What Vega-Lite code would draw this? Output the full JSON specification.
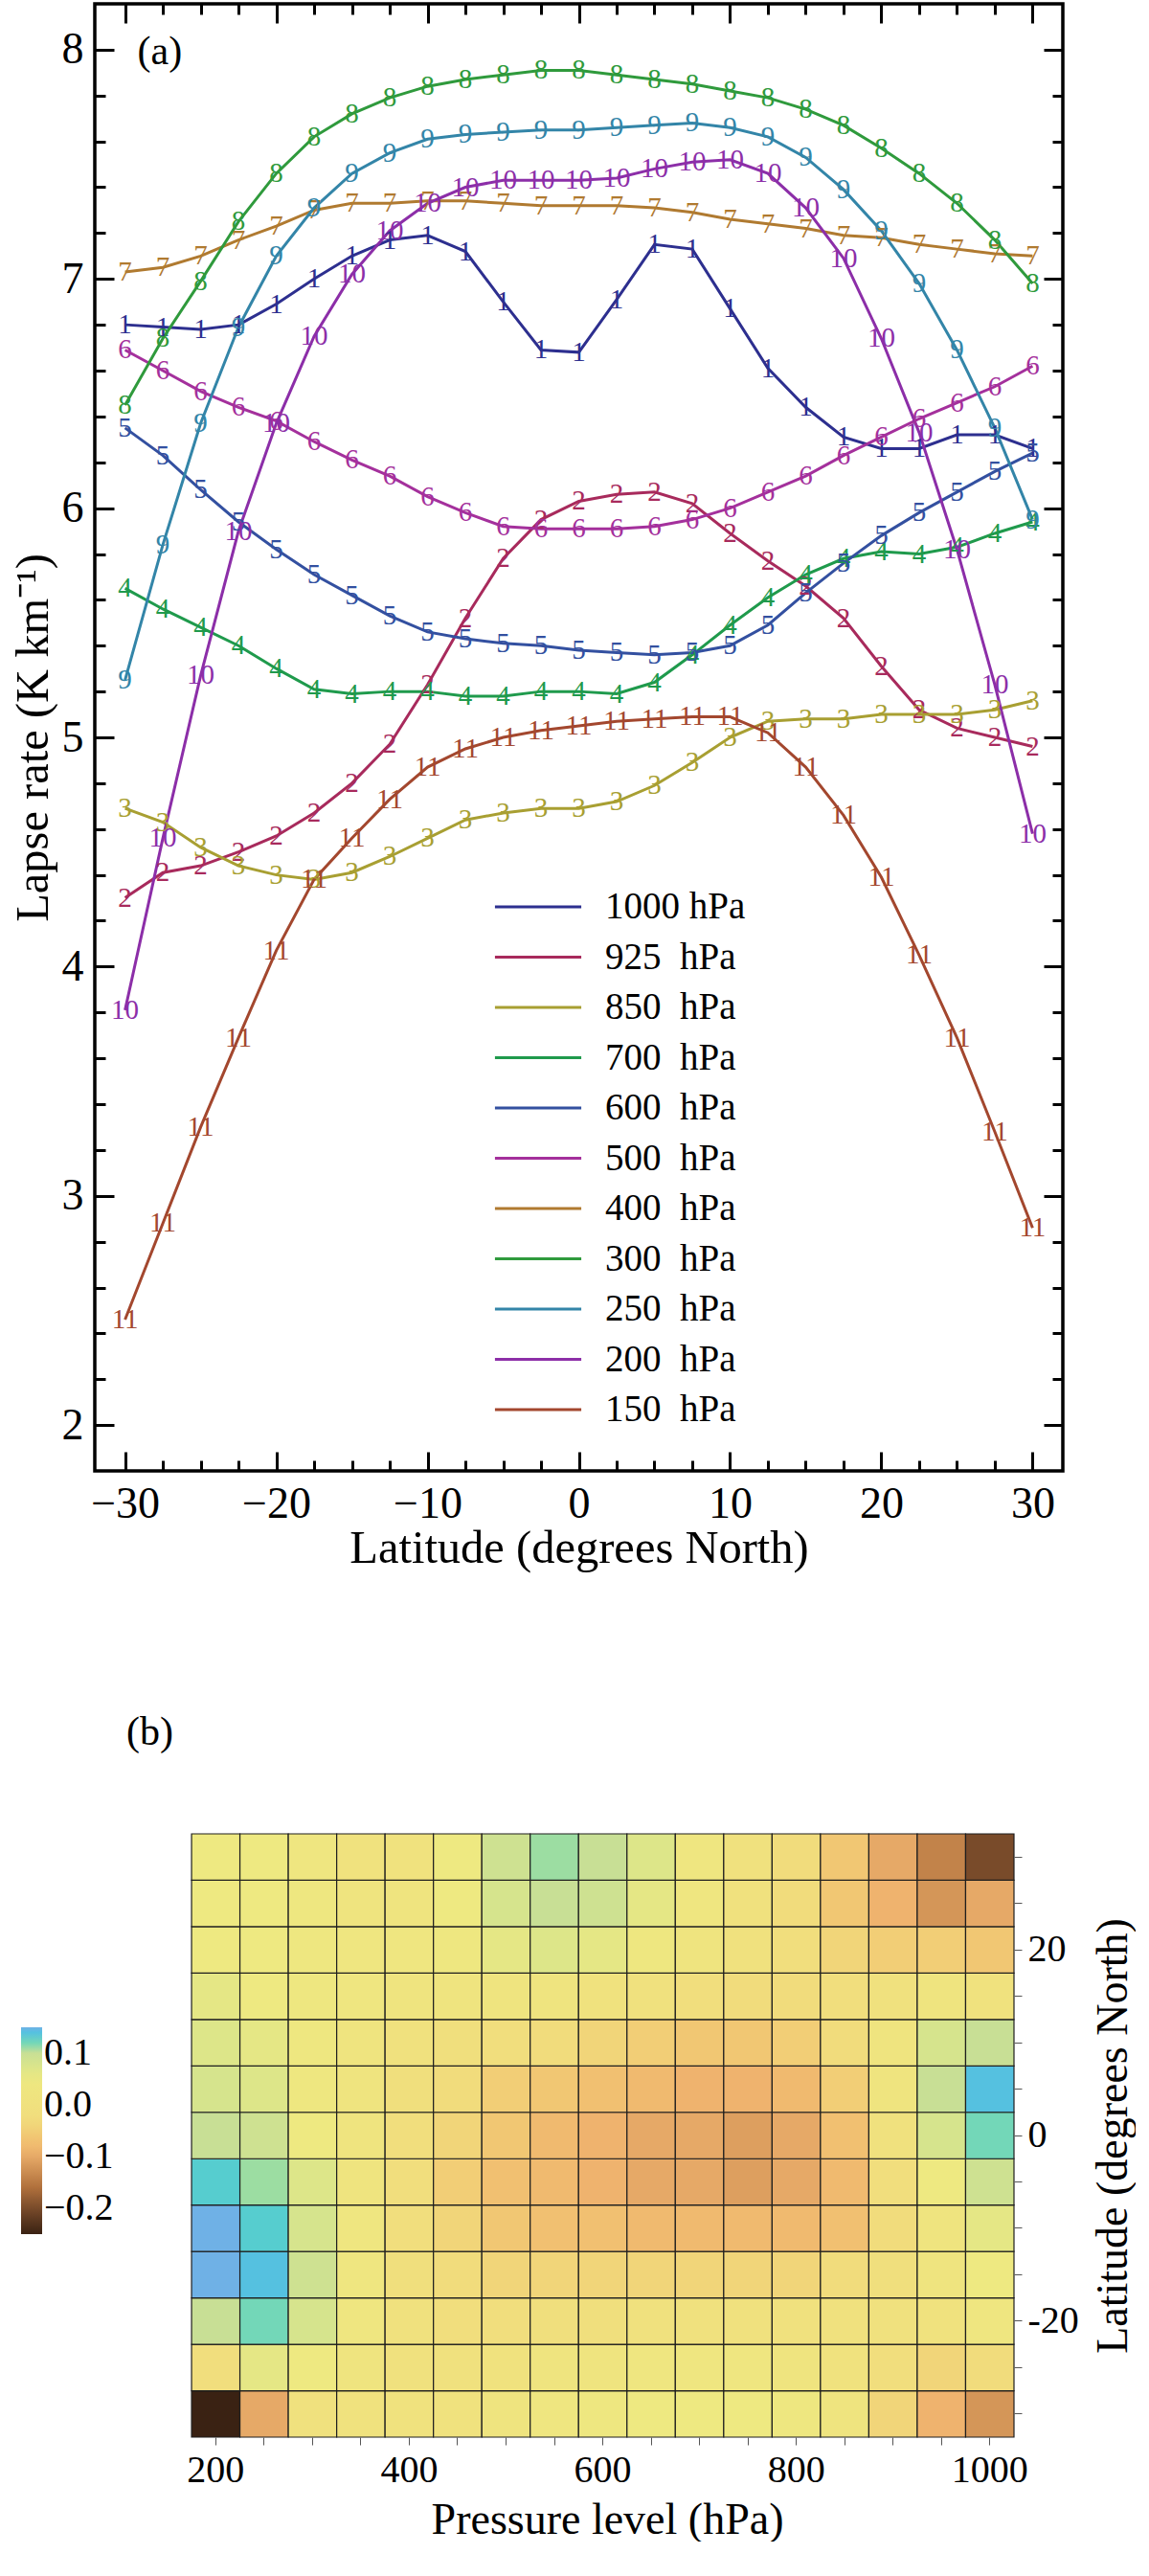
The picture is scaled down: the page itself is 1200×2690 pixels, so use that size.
{
  "$schema": "https://vega.github.io/schema/vega-lite/v6.json",
  "background": "white",
  "padding": {"left": 8, "top": 0, "right": 0, "bottom": 0},
  "datasets": {
    "lapse": [
      {"n":1,"lat":-30,"v":6.80},{"n":1,"lat":-27.5,"v":6.79},{"n":1,"lat":-25,"v":6.78},{"n":1,"lat":-22.5,"v":6.80},{"n":1,"lat":-20,"v":6.89},{"n":1,"lat":-17.5,"v":7.00},{"n":1,"lat":-15,"v":7.10},{"n":1,"lat":-12.5,"v":7.17},{"n":1,"lat":-10,"v":7.19},{"n":1,"lat":-7.5,"v":7.12},{"n":1,"lat":-5,"v":6.90},{"n":1,"lat":-2.5,"v":6.69},{"n":1,"lat":0,"v":6.68},{"n":1,"lat":2.5,"v":6.91},{"n":1,"lat":5,"v":7.15},{"n":1,"lat":7.5,"v":7.13},{"n":1,"lat":10,"v":6.87},{"n":1,"lat":12.5,"v":6.61},{"n":1,"lat":15,"v":6.44},{"n":1,"lat":17.5,"v":6.31},{"n":1,"lat":20,"v":6.26},{"n":1,"lat":22.5,"v":6.26},{"n":1,"lat":25,"v":6.32},{"n":1,"lat":27.5,"v":6.32},{"n":1,"lat":30,"v":6.26},
      {"n":2,"lat":-30,"v":4.30},{"n":2,"lat":-27.5,"v":4.41},{"n":2,"lat":-25,"v":4.44},{"n":2,"lat":-22.5,"v":4.50},{"n":2,"lat":-20,"v":4.57},{"n":2,"lat":-17.5,"v":4.67},{"n":2,"lat":-15,"v":4.80},{"n":2,"lat":-12.5,"v":4.97},{"n":2,"lat":-10,"v":5.23},{"n":2,"lat":-7.5,"v":5.52},{"n":2,"lat":-5,"v":5.78},{"n":2,"lat":-2.5,"v":5.95},{"n":2,"lat":0,"v":6.03},{"n":2,"lat":2.5,"v":6.06},{"n":2,"lat":5,"v":6.07},{"n":2,"lat":7.5,"v":6.02},{"n":2,"lat":10,"v":5.89},{"n":2,"lat":12.5,"v":5.77},{"n":2,"lat":15,"v":5.66},{"n":2,"lat":17.5,"v":5.52},{"n":2,"lat":20,"v":5.31},{"n":2,"lat":22.5,"v":5.12},{"n":2,"lat":25,"v":5.04},{"n":2,"lat":27.5,"v":5.00},{"n":2,"lat":30,"v":4.96},
      {"n":3,"lat":-30,"v":4.69},{"n":3,"lat":-27.5,"v":4.63},{"n":3,"lat":-25,"v":4.52},{"n":3,"lat":-22.5,"v":4.44},{"n":3,"lat":-20,"v":4.40},{"n":3,"lat":-17.5,"v":4.38},{"n":3,"lat":-15,"v":4.41},{"n":3,"lat":-12.5,"v":4.48},{"n":3,"lat":-10,"v":4.56},{"n":3,"lat":-7.5,"v":4.64},{"n":3,"lat":-5,"v":4.67},{"n":3,"lat":-2.5,"v":4.69},{"n":3,"lat":0,"v":4.69},{"n":3,"lat":2.5,"v":4.72},{"n":3,"lat":5,"v":4.79},{"n":3,"lat":7.5,"v":4.89},{"n":3,"lat":10,"v":5.00},{"n":3,"lat":12.5,"v":5.07},{"n":3,"lat":15,"v":5.08},{"n":3,"lat":17.5,"v":5.08},{"n":3,"lat":20,"v":5.10},{"n":3,"lat":22.5,"v":5.10},{"n":3,"lat":25,"v":5.10},{"n":3,"lat":27.5,"v":5.12},{"n":3,"lat":30,"v":5.16},
      {"n":4,"lat":-30,"v":5.65},{"n":4,"lat":-27.5,"v":5.56},{"n":4,"lat":-25,"v":5.48},{"n":4,"lat":-22.5,"v":5.40},{"n":4,"lat":-20,"v":5.30},{"n":4,"lat":-17.5,"v":5.21},{"n":4,"lat":-15,"v":5.19},{"n":4,"lat":-12.5,"v":5.20},{"n":4,"lat":-10,"v":5.20},{"n":4,"lat":-7.5,"v":5.18},{"n":4,"lat":-5,"v":5.18},{"n":4,"lat":-2.5,"v":5.20},{"n":4,"lat":0,"v":5.20},{"n":4,"lat":2.5,"v":5.19},{"n":4,"lat":5,"v":5.24},{"n":4,"lat":7.5,"v":5.36},{"n":4,"lat":10,"v":5.49},{"n":4,"lat":12.5,"v":5.61},{"n":4,"lat":15,"v":5.71},{"n":4,"lat":17.5,"v":5.78},{"n":4,"lat":20,"v":5.81},{"n":4,"lat":22.5,"v":5.80},{"n":4,"lat":25,"v":5.83},{"n":4,"lat":27.5,"v":5.89},{"n":4,"lat":30,"v":5.94},
      {"n":5,"lat":-30,"v":6.35},{"n":5,"lat":-27.5,"v":6.23},{"n":5,"lat":-25,"v":6.08},{"n":5,"lat":-22.5,"v":5.94},{"n":5,"lat":-20,"v":5.82},{"n":5,"lat":-17.5,"v":5.71},{"n":5,"lat":-15,"v":5.62},{"n":5,"lat":-12.5,"v":5.53},{"n":5,"lat":-10,"v":5.46},{"n":5,"lat":-7.5,"v":5.43},{"n":5,"lat":-5,"v":5.41},{"n":5,"lat":-2.5,"v":5.40},{"n":5,"lat":0,"v":5.38},{"n":5,"lat":2.5,"v":5.37},{"n":5,"lat":5,"v":5.36},{"n":5,"lat":7.5,"v":5.37},{"n":5,"lat":10,"v":5.40},{"n":5,"lat":12.5,"v":5.49},{"n":5,"lat":15,"v":5.63},{"n":5,"lat":17.5,"v":5.76},{"n":5,"lat":20,"v":5.88},{"n":5,"lat":22.5,"v":5.98},{"n":5,"lat":25,"v":6.07},{"n":5,"lat":27.5,"v":6.16},{"n":5,"lat":30,"v":6.24},
      {"n":6,"lat":-30,"v":6.69},{"n":6,"lat":-27.5,"v":6.60},{"n":6,"lat":-25,"v":6.51},{"n":6,"lat":-22.5,"v":6.44},{"n":6,"lat":-20,"v":6.38},{"n":6,"lat":-17.5,"v":6.29},{"n":6,"lat":-15,"v":6.21},{"n":6,"lat":-12.5,"v":6.14},{"n":6,"lat":-10,"v":6.05},{"n":6,"lat":-7.5,"v":5.98},{"n":6,"lat":-5,"v":5.92},{"n":6,"lat":-2.5,"v":5.91},{"n":6,"lat":0,"v":5.91},{"n":6,"lat":2.5,"v":5.91},{"n":6,"lat":5,"v":5.92},{"n":6,"lat":7.5,"v":5.95},{"n":6,"lat":10,"v":6.00},{"n":6,"lat":12.5,"v":6.07},{"n":6,"lat":15,"v":6.14},{"n":6,"lat":17.5,"v":6.23},{"n":6,"lat":20,"v":6.31},{"n":6,"lat":22.5,"v":6.39},{"n":6,"lat":25,"v":6.46},{"n":6,"lat":27.5,"v":6.53},{"n":6,"lat":30,"v":6.62},
      {"n":7,"lat":-30,"v":7.03},{"n":7,"lat":-27.5,"v":7.05},{"n":7,"lat":-25,"v":7.10},{"n":7,"lat":-22.5,"v":7.17},{"n":7,"lat":-20,"v":7.23},{"n":7,"lat":-17.5,"v":7.30},{"n":7,"lat":-15,"v":7.33},{"n":7,"lat":-12.5,"v":7.33},{"n":7,"lat":-10,"v":7.34},{"n":7,"lat":-7.5,"v":7.34},{"n":7,"lat":-5,"v":7.33},{"n":7,"lat":-2.5,"v":7.32},{"n":7,"lat":0,"v":7.32},{"n":7,"lat":2.5,"v":7.32},{"n":7,"lat":5,"v":7.31},{"n":7,"lat":7.5,"v":7.29},{"n":7,"lat":10,"v":7.26},{"n":7,"lat":12.5,"v":7.24},{"n":7,"lat":15,"v":7.22},{"n":7,"lat":17.5,"v":7.19},{"n":7,"lat":20,"v":7.18},{"n":7,"lat":22.5,"v":7.15},{"n":7,"lat":25,"v":7.13},{"n":7,"lat":27.5,"v":7.11},{"n":7,"lat":30,"v":7.10},
      {"n":8,"lat":-30,"v":6.45},{"n":8,"lat":-27.5,"v":6.74},{"n":8,"lat":-25,"v":6.99},{"n":8,"lat":-22.5,"v":7.25},{"n":8,"lat":-20,"v":7.46},{"n":8,"lat":-17.5,"v":7.62},{"n":8,"lat":-15,"v":7.72},{"n":8,"lat":-12.5,"v":7.79},{"n":8,"lat":-10,"v":7.84},{"n":8,"lat":-7.5,"v":7.87},{"n":8,"lat":-5,"v":7.89},{"n":8,"lat":-2.5,"v":7.91},{"n":8,"lat":0,"v":7.91},{"n":8,"lat":2.5,"v":7.89},{"n":8,"lat":5,"v":7.87},{"n":8,"lat":7.5,"v":7.85},{"n":8,"lat":10,"v":7.82},{"n":8,"lat":12.5,"v":7.79},{"n":8,"lat":15,"v":7.74},{"n":8,"lat":17.5,"v":7.67},{"n":8,"lat":20,"v":7.57},{"n":8,"lat":22.5,"v":7.46},{"n":8,"lat":25,"v":7.33},{"n":8,"lat":27.5,"v":7.17},{"n":8,"lat":30,"v":6.98},
      {"n":9,"lat":-30,"v":5.25},{"n":9,"lat":-27.5,"v":5.84},{"n":9,"lat":-25,"v":6.37},{"n":9,"lat":-22.5,"v":6.79},{"n":9,"lat":-20,"v":7.10},{"n":9,"lat":-17.5,"v":7.31},{"n":9,"lat":-15,"v":7.46},{"n":9,"lat":-12.5,"v":7.55},{"n":9,"lat":-10,"v":7.61},{"n":9,"lat":-7.5,"v":7.63},{"n":9,"lat":-5,"v":7.64},{"n":9,"lat":-2.5,"v":7.65},{"n":9,"lat":0,"v":7.65},{"n":9,"lat":2.5,"v":7.66},{"n":9,"lat":5,"v":7.67},{"n":9,"lat":7.5,"v":7.68},{"n":9,"lat":10,"v":7.66},{"n":9,"lat":12.5,"v":7.62},{"n":9,"lat":15,"v":7.53},{"n":9,"lat":17.5,"v":7.39},{"n":9,"lat":20,"v":7.21},{"n":9,"lat":22.5,"v":6.98},{"n":9,"lat":25,"v":6.69},{"n":9,"lat":27.5,"v":6.35},{"n":9,"lat":30,"v":5.95},
      {"n":10,"lat":-30,"v":3.81},{"n":10,"lat":-27.5,"v":4.56},{"n":10,"lat":-25,"v":5.27},{"n":10,"lat":-22.5,"v":5.90},{"n":10,"lat":-20,"v":6.37},{"n":10,"lat":-17.5,"v":6.75},{"n":10,"lat":-15,"v":7.02},{"n":10,"lat":-12.5,"v":7.21},{"n":10,"lat":-10,"v":7.33},{"n":10,"lat":-7.5,"v":7.40},{"n":10,"lat":-5,"v":7.43},{"n":10,"lat":-2.5,"v":7.43},{"n":10,"lat":0,"v":7.43},{"n":10,"lat":2.5,"v":7.44},{"n":10,"lat":5,"v":7.48},{"n":10,"lat":7.5,"v":7.51},{"n":10,"lat":10,"v":7.52},{"n":10,"lat":12.5,"v":7.46},{"n":10,"lat":15,"v":7.31},{"n":10,"lat":17.5,"v":7.09},{"n":10,"lat":20,"v":6.74},{"n":10,"lat":22.5,"v":6.33},{"n":10,"lat":25,"v":5.82},{"n":10,"lat":27.5,"v":5.23},{"n":10,"lat":30,"v":4.58},
      {"n":11,"lat":-30,"v":2.46},{"n":11,"lat":-27.5,"v":2.88},{"n":11,"lat":-25,"v":3.30},{"n":11,"lat":-22.5,"v":3.69},{"n":11,"lat":-20,"v":4.07},{"n":11,"lat":-17.5,"v":4.38},{"n":11,"lat":-15,"v":4.56},{"n":11,"lat":-12.5,"v":4.73},{"n":11,"lat":-10,"v":4.87},{"n":11,"lat":-7.5,"v":4.95},{"n":11,"lat":-5,"v":5.00},{"n":11,"lat":-2.5,"v":5.03},{"n":11,"lat":0,"v":5.05},{"n":11,"lat":2.5,"v":5.07},{"n":11,"lat":5,"v":5.08},{"n":11,"lat":7.5,"v":5.09},{"n":11,"lat":10,"v":5.09},{"n":11,"lat":12.5,"v":5.02},{"n":11,"lat":15,"v":4.87},{"n":11,"lat":17.5,"v":4.66},{"n":11,"lat":20,"v":4.39},{"n":11,"lat":22.5,"v":4.05},{"n":11,"lat":25,"v":3.69},{"n":11,"lat":27.5,"v":3.28},{"n":11,"lat":30,"v":2.86}
    ],
    "surface": [
      {"p":200,"lat":-30,"z":-0.25},{"p":250,"lat":-30,"z":-0.10},{"p":300,"lat":-30,"z":0.00},{"p":350,"lat":-30,"z":0.01},{"p":400,"lat":-30,"z":0.01},{"p":450,"lat":-30,"z":0.01},{"p":500,"lat":-30,"z":0.02},{"p":550,"lat":-30,"z":0.03},{"p":600,"lat":-30,"z":0.04},{"p":650,"lat":-30,"z":0.05},{"p":700,"lat":-30,"z":0.05},{"p":750,"lat":-30,"z":0.05},{"p":800,"lat":-30,"z":0.04},{"p":850,"lat":-30,"z":0.02},{"p":900,"lat":-30,"z":-0.04},{"p":950,"lat":-30,"z":-0.09},{"p":1000,"lat":-30,"z":-0.12},
      {"p":200,"lat":-25,"z":-0.02},{"p":250,"lat":-25,"z":0.06},{"p":300,"lat":-25,"z":0.05},{"p":350,"lat":-25,"z":0.02},{"p":400,"lat":-25,"z":0.00},{"p":450,"lat":-25,"z":0.00},{"p":500,"lat":-25,"z":0.01},{"p":550,"lat":-25,"z":0.02},{"p":600,"lat":-25,"z":0.02},{"p":650,"lat":-25,"z":0.03},{"p":700,"lat":-25,"z":0.03},{"p":750,"lat":-25,"z":0.03},{"p":800,"lat":-25,"z":0.02},{"p":850,"lat":-25,"z":0.01},{"p":900,"lat":-25,"z":-0.02},{"p":950,"lat":-25,"z":-0.04},{"p":1000,"lat":-25,"z":-0.03},
      {"p":200,"lat":-20,"z":0.10},{"p":250,"lat":-20,"z":0.12},{"p":300,"lat":-20,"z":0.08},{"p":350,"lat":-20,"z":0.03},{"p":400,"lat":-20,"z":0.00},{"p":450,"lat":-20,"z":-0.02},{"p":500,"lat":-20,"z":-0.02},{"p":550,"lat":-20,"z":-0.01},{"p":600,"lat":-20,"z":-0.01},{"p":650,"lat":-20,"z":0.00},{"p":700,"lat":-20,"z":0.00},{"p":750,"lat":-20,"z":0.00},{"p":800,"lat":-20,"z":0.00},{"p":850,"lat":-20,"z":0.00},{"p":900,"lat":-20,"z":0.00},{"p":950,"lat":-20,"z":0.01},{"p":1000,"lat":-20,"z":0.03},
      {"p":200,"lat":-15,"z":0.15},{"p":250,"lat":-15,"z":0.14},{"p":300,"lat":-15,"z":0.09},{"p":350,"lat":-15,"z":0.03},{"p":400,"lat":-15,"z":-0.01},{"p":450,"lat":-15,"z":-0.03},{"p":500,"lat":-15,"z":-0.04},{"p":550,"lat":-15,"z":-0.04},{"p":600,"lat":-15,"z":-0.04},{"p":650,"lat":-15,"z":-0.04},{"p":700,"lat":-15,"z":-0.04},{"p":750,"lat":-15,"z":-0.04},{"p":800,"lat":-15,"z":-0.04},{"p":850,"lat":-15,"z":-0.03},{"p":900,"lat":-15,"z":-0.01},{"p":950,"lat":-15,"z":0.02},{"p":1000,"lat":-15,"z":0.05},
      {"p":200,"lat":-10,"z":0.15},{"p":250,"lat":-10,"z":0.13},{"p":300,"lat":-10,"z":0.08},{"p":350,"lat":-10,"z":0.03},{"p":400,"lat":-10,"z":-0.02},{"p":450,"lat":-10,"z":-0.04},{"p":500,"lat":-10,"z":-0.06},{"p":550,"lat":-10,"z":-0.07},{"p":600,"lat":-10,"z":-0.07},{"p":650,"lat":-10,"z":-0.08},{"p":700,"lat":-10,"z":-0.08},{"p":750,"lat":-10,"z":-0.08},{"p":800,"lat":-10,"z":-0.08},{"p":850,"lat":-10,"z":-0.07},{"p":900,"lat":-10,"z":-0.03},{"p":950,"lat":-10,"z":0.02},{"p":1000,"lat":-10,"z":0.06},
      {"p":200,"lat":-5,"z":0.13},{"p":250,"lat":-5,"z":0.11},{"p":300,"lat":-5,"z":0.07},{"p":350,"lat":-5,"z":0.02},{"p":400,"lat":-5,"z":-0.02},{"p":450,"lat":-5,"z":-0.05},{"p":500,"lat":-5,"z":-0.07},{"p":550,"lat":-5,"z":-0.08},{"p":600,"lat":-5,"z":-0.09},{"p":650,"lat":-5,"z":-0.10},{"p":700,"lat":-5,"z":-0.10},{"p":750,"lat":-5,"z":-0.11},{"p":800,"lat":-5,"z":-0.10},{"p":850,"lat":-5,"z":-0.08},{"p":900,"lat":-5,"z":-0.02},{"p":950,"lat":-5,"z":0.05},{"p":1000,"lat":-5,"z":0.09},
      {"p":200,"lat":0,"z":0.10},{"p":250,"lat":0,"z":0.09},{"p":300,"lat":0,"z":0.05},{"p":350,"lat":0,"z":0.02},{"p":400,"lat":0,"z":-0.02},{"p":450,"lat":0,"z":-0.04},{"p":500,"lat":0,"z":-0.06},{"p":550,"lat":0,"z":-0.08},{"p":600,"lat":0,"z":-0.09},{"p":650,"lat":0,"z":-0.10},{"p":700,"lat":0,"z":-0.10},{"p":750,"lat":0,"z":-0.11},{"p":800,"lat":0,"z":-0.10},{"p":850,"lat":0,"z":-0.07},{"p":900,"lat":0,"z":0.00},{"p":950,"lat":0,"z":0.08},{"p":1000,"lat":0,"z":0.12},
      {"p":200,"lat":5,"z":0.08},{"p":250,"lat":5,"z":0.07},{"p":300,"lat":5,"z":0.04},{"p":350,"lat":5,"z":0.02},{"p":400,"lat":5,"z":-0.01},{"p":450,"lat":5,"z":-0.03},{"p":500,"lat":5,"z":-0.05},{"p":550,"lat":5,"z":-0.06},{"p":600,"lat":5,"z":-0.07},{"p":650,"lat":5,"z":-0.08},{"p":700,"lat":5,"z":-0.09},{"p":750,"lat":5,"z":-0.09},{"p":800,"lat":5,"z":-0.08},{"p":850,"lat":5,"z":-0.05},{"p":900,"lat":5,"z":0.02},{"p":950,"lat":5,"z":0.10},{"p":1000,"lat":5,"z":0.14},
      {"p":200,"lat":10,"z":0.07},{"p":250,"lat":10,"z":0.06},{"p":300,"lat":10,"z":0.04},{"p":350,"lat":10,"z":0.02},{"p":400,"lat":10,"z":0.00},{"p":450,"lat":10,"z":-0.01},{"p":500,"lat":10,"z":-0.02},{"p":550,"lat":10,"z":-0.03},{"p":600,"lat":10,"z":-0.04},{"p":650,"lat":10,"z":-0.05},{"p":700,"lat":10,"z":-0.06},{"p":750,"lat":10,"z":-0.06},{"p":800,"lat":10,"z":-0.05},{"p":850,"lat":10,"z":-0.03},{"p":900,"lat":10,"z":0.02},{"p":950,"lat":10,"z":0.08},{"p":1000,"lat":10,"z":0.10},
      {"p":200,"lat":15,"z":0.06},{"p":250,"lat":15,"z":0.05},{"p":300,"lat":15,"z":0.04},{"p":350,"lat":15,"z":0.03},{"p":400,"lat":15,"z":0.02},{"p":450,"lat":15,"z":0.02},{"p":500,"lat":15,"z":0.02},{"p":550,"lat":15,"z":0.02},{"p":600,"lat":15,"z":0.01},{"p":650,"lat":15,"z":0.00},{"p":700,"lat":15,"z":-0.02},{"p":750,"lat":15,"z":-0.03},{"p":800,"lat":15,"z":-0.03},{"p":850,"lat":15,"z":-0.02},{"p":900,"lat":15,"z":0.00},{"p":950,"lat":15,"z":0.02},{"p":1000,"lat":15,"z":0.01},
      {"p":200,"lat":20,"z":0.05},{"p":250,"lat":20,"z":0.05},{"p":300,"lat":20,"z":0.04},{"p":350,"lat":20,"z":0.03},{"p":400,"lat":20,"z":0.03},{"p":450,"lat":20,"z":0.04},{"p":500,"lat":20,"z":0.06},{"p":550,"lat":20,"z":0.07},{"p":600,"lat":20,"z":0.06},{"p":650,"lat":20,"z":0.04},{"p":700,"lat":20,"z":0.02},{"p":750,"lat":20,"z":0.00},{"p":800,"lat":20,"z":-0.02},{"p":850,"lat":20,"z":-0.04},{"p":900,"lat":20,"z":-0.05},{"p":950,"lat":20,"z":-0.05},{"p":1000,"lat":20,"z":-0.06},
      {"p":200,"lat":25,"z":0.05},{"p":250,"lat":25,"z":0.05},{"p":300,"lat":25,"z":0.04},{"p":350,"lat":25,"z":0.02},{"p":400,"lat":25,"z":0.02},{"p":450,"lat":25,"z":0.05},{"p":500,"lat":25,"z":0.08},{"p":550,"lat":25,"z":0.10},{"p":600,"lat":25,"z":0.09},{"p":650,"lat":25,"z":0.06},{"p":700,"lat":25,"z":0.03},{"p":750,"lat":25,"z":0.00},{"p":800,"lat":25,"z":-0.03},{"p":850,"lat":25,"z":-0.06},{"p":900,"lat":25,"z":-0.09},{"p":950,"lat":25,"z":-0.12},{"p":1000,"lat":25,"z":-0.10},
      {"p":200,"lat":30,"z":0.05},{"p":250,"lat":30,"z":0.05},{"p":300,"lat":30,"z":0.03},{"p":350,"lat":30,"z":0.01},{"p":400,"lat":30,"z":0.01},{"p":450,"lat":30,"z":0.05},{"p":500,"lat":30,"z":0.09},{"p":550,"lat":30,"z":0.11},{"p":600,"lat":30,"z":0.10},{"p":650,"lat":30,"z":0.07},{"p":700,"lat":30,"z":0.03},{"p":750,"lat":30,"z":0.00},{"p":800,"lat":30,"z":-0.03},{"p":850,"lat":30,"z":-0.06},{"p":900,"lat":30,"z":-0.10},{"p":950,"lat":30,"z":-0.14},{"p":1000,"lat":30,"z":-0.20}
    ]
  },
  "spacing": 145,
  "vconcat": [
    {
      "width": 1011,
      "height": 1532,
      "resolve": {"axis": {"x": "independent", "y": "independent"}},
      "layer": [
        {
          "data": {"name": "lapse"},
          "mark": {"type": "line", "strokeWidth": 3},
          "encoding": {
            "x": {"field": "lat", "type": "quantitative", "scale": {"domain": [-32, 32], "nice": false, "zero": false},
              "axis": {"orient": "bottom", "values": [-30, -20, -10, 0, 10, 20, 30], "ticks": false, "tickSize": 0, "labelFont": "Liberation Serif", "labelFontSize": 46, "labelPadding": 12, "title": "Latitude (degrees North)", "titleFont": "Liberation Serif", "titleFontSize": 48.5, "titlePadding": 0}},
            "y": {"field": "v", "type": "quantitative", "scale": {"domain": [1.8, 8.2], "nice": false, "zero": false},
              "axis": {"orient": "left", "values": [2, 3, 4, 5, 6, 7, 8], "ticks": false, "tickSize": 0, "labelFont": "Liberation Serif", "labelFontSize": 46, "labelPadding": 12, "title": "Lapse rate (K km⁻¹)", "titleFont": "Liberation Serif", "titleFontSize": 48.5, "titlePadding": 5}},
            "color": {"field": "n", "type": "nominal",
              "scale": {"domain": [1, 2, 3, 4, 5, 6, 7, 8, 9, 10, 11], "range": ["#2d2f8f", "#a82a5c", "#a89f32", "#1f9a4c", "#3350a0", "#a4309c", "#b07a30", "#2f9a3c", "#3385a8", "#8c2ea8", "#a3472e"]},
              "legend": {"orient": "none", "legendX": 437, "legendY": 917, "title": null, "padding": 0, "symbolType": "M-1.84,0H1.84", "symbolSize": 2401, "symbolStrokeWidth": 3, "labelFont": "Liberation Serif", "labelFontSize": 39, "labelColor": "black", "labelOffset": 44, "rowPadding": 6.5,
                "labelExpr": "['1000 hPa','925\u2002hPa','850\u2002hPa','700\u2002hPa','600\u2002hPa','500\u2002hPa','400\u2002hPa','300\u2002hPa','250\u2002hPa','200\u2002hPa','150\u2002hPa'][datum.value - 1]"}},
            "detail": {"field": "n", "type": "nominal"}
          }
        },
        {
          "data": {"name": "lapse"},
          "mark": {"type": "text", "font": "Liberation Serif", "fontSize": 29, "baseline": "middle", "align": "center"},
          "encoding": {
            "x": {"field": "lat", "type": "quantitative", "scale": {"domain": [-32, 32], "nice": false, "zero": false},
              "axis": {"orient": "bottom", "values": [-30, -27.5, -25, -22.5, -20, -17.5, -15, -12.5, -10, -7.5, -5, -2.5, 0, 2.5, 5, 7.5, 10, 12.5, 15, 17.5, 20, 22.5, 25, 27.5, 30], "tickSize": -11, "tickWidth": 3, "labels": false, "title": null}},
            "y": {"field": "v", "type": "quantitative", "scale": {"domain": [1.8, 8.2], "nice": false, "zero": false},
              "axis": {"orient": "left", "values": [2, 2.2, 2.4, 2.6, 2.8, 3, 3.2, 3.4, 3.6, 3.8, 4, 4.2, 4.4, 4.6, 4.8, 5, 5.2, 5.4, 5.6, 5.8, 6, 6.2, 6.4, 6.6, 6.8, 7, 7.2, 7.4, 7.6, 7.8, 8], "tickSize": -11, "tickWidth": 3, "labels": false, "title": null}},
            "color": {"field": "n", "type": "nominal"},
            "text": {"field": "n", "type": "nominal"}
          }
        },
        {
          "data": {"name": "lapse"},
          "mark": {"type": "point", "opacity": 0},
          "encoding": {
            "x": {"field": "lat", "type": "quantitative", "scale": {"domain": [-32, 32], "nice": false, "zero": false},
              "axis": {"orient": "bottom", "values": [-30, -20, -10, 0, 10, 20, 30], "tickSize": -20, "tickWidth": 3, "labels": false, "title": null}},
            "y": {"field": "v", "type": "quantitative", "scale": {"domain": [1.8, 8.2], "nice": false, "zero": false},
              "axis": {"orient": "left", "values": [2, 3, 4, 5, 6, 7, 8], "tickSize": -20, "tickWidth": 3, "labels": false, "title": null}}
          }
        },
        {
          "data": {"name": "lapse"},
          "mark": {"type": "point", "opacity": 0},
          "encoding": {
            "x": {"field": "lat", "type": "quantitative", "scale": {"domain": [-32, 32], "nice": false, "zero": false},
              "axis": {"orient": "top", "values": [-30, -20, -10, 0, 10, 20, 30], "tickSize": -20, "tickWidth": 3, "labels": false, "title": null}},
            "y": {"field": "v", "type": "quantitative", "scale": {"domain": [1.8, 8.2], "nice": false, "zero": false},
              "axis": {"orient": "right", "values": [2, 3, 4, 5, 6, 7, 8], "tickSize": -20, "tickWidth": 3, "labels": false, "title": null}}
          }
        },
        {
          "data": {"name": "lapse"},
          "mark": {"type": "point", "opacity": 0},
          "encoding": {
            "x": {"field": "lat", "type": "quantitative", "scale": {"domain": [-32, 32], "nice": false, "zero": false},
              "axis": {"orient": "top", "values": [-30, -27.5, -25, -22.5, -20, -17.5, -15, -12.5, -10, -7.5, -5, -2.5, 0, 2.5, 5, 7.5, 10, 12.5, 15, 17.5, 20, 22.5, 25, 27.5, 30], "tickSize": -11, "tickWidth": 3, "labels": false, "title": null}},
            "y": {"field": "v", "type": "quantitative", "scale": {"domain": [1.8, 8.2], "nice": false, "zero": false},
              "axis": {"orient": "right", "values": [2, 2.2, 2.4, 2.6, 2.8, 3, 3.2, 3.4, 3.6, 3.8, 4, 4.2, 4.4, 4.6, 4.8, 5, 5.2, 5.4, 5.6, 5.8, 6, 6.2, 6.4, 6.6, 6.8, 7, 7.2, 7.4, 7.6, 7.8, 8], "tickSize": -11, "tickWidth": 3, "labels": false, "title": null}}
          }
        },
        {
          "data": {"values": [{"label": "(a)"}]},
          "mark": {"type": "text", "font": "Liberation Serif", "fontSize": 42, "align": "center", "baseline": "middle", "color": "black"},
          "encoding": {
            "x": {"datum": -27.7, "type": "quantitative", "axis": null},
            "y": {"datum": 7.99, "type": "quantitative", "axis": null},
            "text": {"field": "label"}
          }
        }
      ]
    },
    {
      "width": 960,
      "height": 630,
      "data": {"name": "surface"},
      "view": {"stroke": null},
      "title": {"text": "(b)", "anchor": "start", "frame": "group", "orient": "top", "dx": 33, "offset": 50, "baseline": "alphabetic", "fontSize": 42, "font": "Liberation Serif"},
      "mark": {"type": "rect", "stroke": "#1e1e1e", "strokeWidth": 1.2},
      "encoding": {
        "x": {"field": "p", "type": "ordinal", "title": "Pressure level (hPa)", "scale": {"paddingInner": 0, "paddingOuter": 1.1, "align": 1},
          "axis": {"labelExpr": "datum.value % 200 === 0 ? datum.label : ''", "labelAngle": 0, "tickSize": 8, "tickWidth": 1, "tickColor": "#555555", "labelFont": "Liberation Serif", "labelFontSize": 40, "labelPadding": 6, "titleFont": "Liberation Serif", "titleFontSize": 46, "titlePadding": 10, "titleX": 535}},
        "y": {"field": "lat", "type": "ordinal", "sort": "descending", "title": "Latitude (degrees North)", "scale": {"paddingInner": 0, "paddingOuter": 0},
          "axis": {"orient": "right", "labelExpr": "datum.value % 20 === 0 ? datum.label : ''", "tickSize": 8, "tickWidth": 1, "tickColor": "#555555", "labelFont": "Liberation Serif", "labelFontSize": 40, "labelPadding": 6, "titleFont": "Liberation Serif", "titleFontSize": 46, "titleAngle": 270, "titleBaseline": "top", "titlePadding": 14}},
        "color": {"field": "z", "type": "quantitative",
          "scale": {"domain": [-0.25, -0.16, -0.09, -0.03, 0.05, 0.1, 0.15], "range": ["#3a2213", "#b0703c", "#efb36e", "#f1dc7c", "#eee981", "#c8df95", "#6fb1e6"]},
          "legend": {"orient": "left", "offset": -20, "title": " ", "titleFontSize": 2, "titlePadding": 200, "values": [-0.2, -0.1, 0, 0.1], "format": ".1f", "direction": "vertical", "gradientLength": 216, "gradientThickness": 22, "labelFont": "Liberation Serif", "labelFontSize": 40, "labelColor": "black", "padding": 0}}
      }
    }
  ],
  "config": {
    "font": "Liberation Serif",
    "view": {"stroke": "black", "strokeWidth": 3.5},
    "axis": {"labelFont": "Liberation Serif", "titleFont": "Liberation Serif", "labelColor": "black", "titleColor": "black", "titleFontWeight": "normal", "grid": false, "domain": false, "tickColor": "black"},
    "legend": {"labelFont": "Liberation Serif"},
    "title": {"font": "Liberation Serif", "fontWeight": "normal", "color": "black"},
    "text": {"font": "Liberation Serif"}
  }
}
